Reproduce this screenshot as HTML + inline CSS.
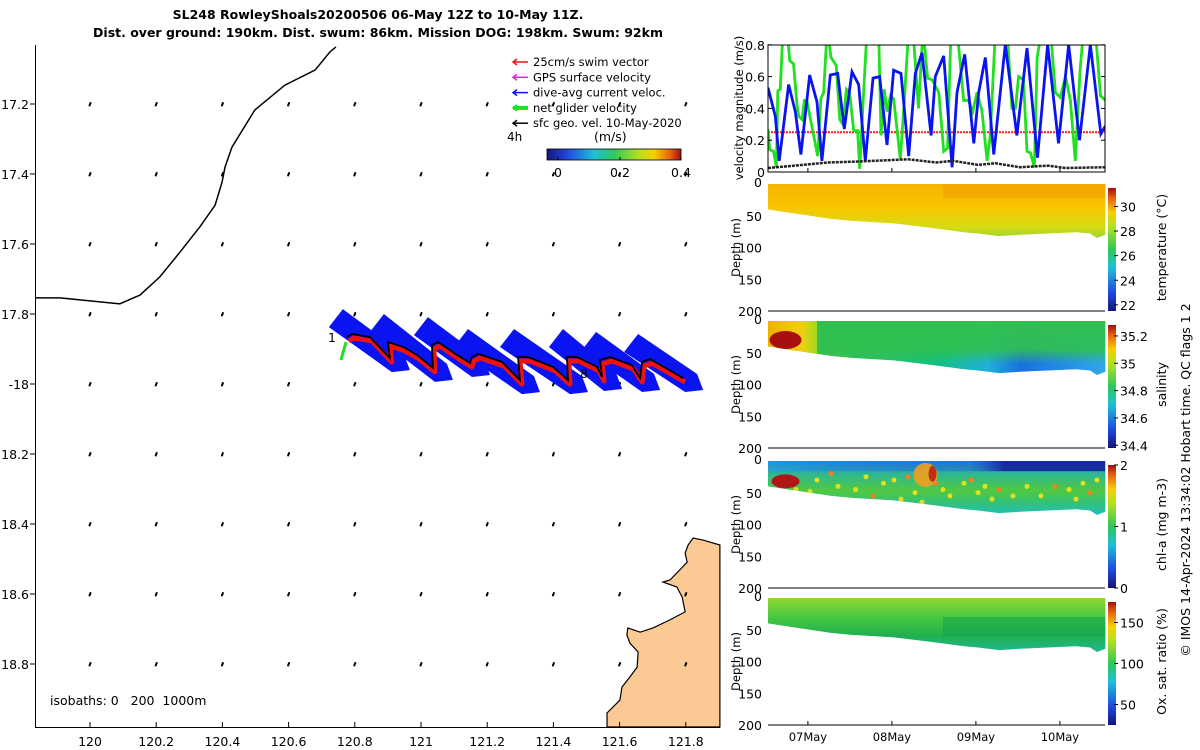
<!DOCTYPE html>
<html><head><meta charset="utf-8"><style>
html,body{margin:0;padding:0;background:#fff;overflow:hidden;}
svg{display:block;font-family:"DejaVu Sans","Liberation Sans",sans-serif;}
</style></head><body>
<svg id="root" width="1200" height="750" viewBox="0 0 1200 750">
<defs>
<linearGradient id="jet" x1="0" y1="1" x2="0" y2="0">
<stop offset="0" stop-color="#15157a"/><stop offset="0.15" stop-color="#1f48e0"/><stop offset="0.35" stop-color="#1fbfd8"/><stop offset="0.5" stop-color="#2ec85a"/><stop offset="0.68" stop-color="#b0e020"/><stop offset="0.8" stop-color="#f8d000"/><stop offset="0.92" stop-color="#e86010"/><stop offset="1" stop-color="#a01010"/>
</linearGradient>
<linearGradient id="jeth" x1="0" y1="0" x2="1" y2="0">
<stop offset="0" stop-color="#15157a"/><stop offset="0.15" stop-color="#1f48e0"/><stop offset="0.35" stop-color="#1fbfd8"/><stop offset="0.5" stop-color="#2ec85a"/><stop offset="0.68" stop-color="#b0e020"/><stop offset="0.8" stop-color="#f8d000"/><stop offset="0.92" stop-color="#e86010"/><stop offset="1" stop-color="#a01010"/>
</linearGradient>
<linearGradient id="gTemp" x1="0" y1="0" x2="0" y2="1"><stop offset="0" stop-color="#f7b400"/><stop offset="0.45" stop-color="#f7c600"/><stop offset="0.8" stop-color="#d6dc14"/><stop offset="1" stop-color="#9ad630"/></linearGradient>
<linearGradient id="gSal" x1="0" y1="0" x2="1" y2="0"><stop offset="0" stop-color="#f0b000"/><stop offset="0.12" stop-color="#e8d010"/><stop offset="0.16" stop-color="#40c050"/><stop offset="0.5" stop-color="#10c080"/><stop offset="0.65" stop-color="#20b0d8"/><stop offset="0.75" stop-color="#1a70e0"/><stop offset="1" stop-color="#30a8e8"/></linearGradient>
<linearGradient id="gSalTop" x1="0" y1="0" x2="0" y2="1"><stop offset="0" stop-color="#30c050" stop-opacity="1"/><stop offset="0.5" stop-color="#30c050" stop-opacity="0.9"/><stop offset="0.75" stop-color="#30c050" stop-opacity="0"/></linearGradient>
<linearGradient id="gSalLeft" x1="0" y1="0" x2="1" y2="0"><stop offset="0" stop-color="#f0b000"/><stop offset="0.7" stop-color="#f0d010"/><stop offset="1" stop-color="#a0d820"/></linearGradient>
<linearGradient id="gChl" x1="0" y1="0" x2="0" y2="1"><stop offset="0" stop-color="#2080e0"/><stop offset="0.25" stop-color="#30b890"/><stop offset="0.55" stop-color="#50c840"/><stop offset="0.8" stop-color="#30c080"/><stop offset="1" stop-color="#20c0c0"/></linearGradient>
<linearGradient id="gChlTop" x1="0" y1="0" x2="1" y2="0"><stop offset="0" stop-color="#20a0e0" stop-opacity="0.6"/><stop offset="0.6" stop-color="#1a50d0" stop-opacity="0.3"/><stop offset="0.7" stop-color="#15209a" stop-opacity="0.9"/><stop offset="1" stop-color="#15209a" stop-opacity="0.9"/></linearGradient>
<linearGradient id="gOx" x1="0" y1="0" x2="0" y2="1"><stop offset="0" stop-color="#90d830"/><stop offset="0.35" stop-color="#48c840"/><stop offset="0.7" stop-color="#20b050"/><stop offset="1" stop-color="#20b890"/></linearGradient>
</defs>

<text x="378" y="19" text-anchor="middle" font-size="12.5" font-weight="bold">SL248 RowleyShoals20200506 06-May 12Z to 10-May 11Z.</text>
<text x="378" y="37" text-anchor="middle" font-size="12.5" font-weight="bold">Dist. over ground: 190km. Dist. swum: 86km. Mission DOG: 198km. Swum: 92km</text>

<g id="map"></g>
<g id="vel"></g>
<g id="depths"></g>

<text transform="translate(1190,480) rotate(-90)" text-anchor="middle" font-size="12.5">© IMOS 14-Apr-2024 13:34:02 Hobart time. QC flags 1  2</text>
</svg>
<script>
// ---------- DATA ----------
const lonTicks=[120,120.2,120.4,120.6,120.8,121,121.2,121.4,121.6,121.8];
const latTicks=[17.2,17.4,17.6,17.8,18,18.2,18.4,18.6,18.8];
const latTickLabels=["17.2","17.4","17.6","17.8","-18","18.2","18.4","18.6","18.8"];
const coastLon=[119.834,119.91,120.09,120.151,120.211,120.272,120.332,120.378,120.399,120.408,120.429,120.498,120.589,120.68,120.725,120.743];
const coastLat=[17.754,17.754,17.771,17.746,17.694,17.623,17.551,17.489,17.423,17.380,17.323,17.217,17.146,17.103,17.051,17.037];
const landLon=[121.903,121.852,121.822,121.807,121.798,121.804,121.782,121.752,121.731,121.773,121.789,121.798,121.752,121.701,121.662,121.625,121.622,121.631,121.656,121.653,121.631,121.607,121.601,121.562,121.562,121.903];
const landLat=[18.46,18.446,18.44,18.46,18.483,18.509,18.531,18.56,18.566,18.58,18.609,18.651,18.674,18.697,18.709,18.697,18.717,18.74,18.766,18.809,18.837,18.866,18.903,18.94,18.98,18.98];
const trackLon=[120.776,120.792,120.846,120.906,120.900,120.946,120.988,121.036,121.033,121.051,121.109,121.148,121.154,121.172,121.245,121.299,121.293,121.323,121.399,121.444,121.441,121.471,121.532,121.547,121.541,121.571,121.637,121.662,121.668,121.692,121.761,121.792];
const trackLat=[17.866,17.857,17.866,17.926,17.880,17.894,17.917,17.954,17.889,17.880,17.917,17.940,17.923,17.914,17.937,17.989,17.923,17.923,17.951,17.989,17.923,17.923,17.951,17.980,17.931,17.923,17.946,17.983,17.937,17.929,17.966,17.983];
const loopStart=[0,4,8,12,16,20,24,28];
const loopEnd=[3,7,11,15,19,23,27,31];

const velTicks=[0,0.2,0.4,0.6,0.8];
const blueT=[0,2.1,3.2,5.9,7.8,9.4,11.9,14,15.4,17.8,19.9,21.8,24,25.9,27.8,30,31.9,34,35.9,38,40.2,42.1,44,46.6,47.8,50.2,52.6,54,56.2,58.8,60.2,62.1,64.5,67.8,71.1,74,77,79.9,83,85.9,89,92.1,95.1,96.4];
const blueV=[0.53,0.35,0.07,0.55,0.38,0.11,0.61,0.44,0.07,0.61,0.62,0.27,0.63,0.55,0.07,0.59,0.6,0.17,0.64,0.62,0.1,0.62,0.75,0.23,0.6,0.73,0.03,0.5,0.74,0.18,0.5,0.72,0.11,0.8,0.23,0.78,0.09,0.8,0.18,0.8,0.2,0.8,0.24,0.29];
const greenT=[0,0.5,1.6,2.4,2.8,3.5,4.3,5.4,6.2,7.3,8.3,8.8,9.7,10.4,11.1,12.6,14.2,15.1,15.9,16.9,18,19.5,20.5,21.4,22.4,23.3,24.5,25.6,26.2,27.1,28.3,31.6,32.3,33.2,34,35,35.9,37.8,38.8,40.2,41.4,43,44.3,45.6,46.9,48.8,50.2,51.3,52.3,54,55.9,57.3,58.5,59.7,61.1,62.6,63.5,65,68.3,69.7,70.7,71.6,73,74,75,76.1,76.9,78.3,80.7,82.1,83.5,85,86.4,87.8,89.2,90.2,93.5,95,96.4];
const greenV=[0.27,0.14,0.13,0.03,0.51,0.52,0.9,0.92,0.7,0.68,0.42,0.35,0.33,0.45,0.45,0.28,0.1,0.46,0.5,0.9,0.72,0.67,0.33,0.3,0.52,0.5,0.26,0.26,0.02,0.41,0.9,0.9,0.23,0.52,0.38,0.48,0.46,0.08,0.4,0.9,0.9,0.4,0.9,0.59,0.58,0.5,0.13,0.15,0.9,0.9,0.45,0.45,0.38,0.5,0.39,0.07,0.23,0.9,0.9,0.4,0.4,0.6,0.58,0.13,0.12,0.03,0.72,0.9,0.9,0.5,0.47,0.6,0.45,0.07,0.65,0.9,0.9,0.48,0.45];
const blackT=[0,10,17,25,40,48,53,60,65,72,80,85,96.4];
const blackV=[0.025,0.045,0.06,0.065,0.08,0.06,0.07,0.045,0.055,0.03,0.04,0.025,0.03];
const swimV=0.25;
const dateTicks=[11.4,35.4,59.4,83.4];
const dateLabels=["07May","08May","09May","10May"];

const profT=[0,6,12,18,24,36,48,56,60,66,72,80,88,92,94,96.4];
const profD=[40,45,50,55,58,62,70,76,78,82,80,78,76,78,85,80];
const depthTicks=[0,50,100,150,200];
const cbTemp=[22,24,26,28,30], cbTempRange=[21.5,31.5];
const cbSal=[34.4,34.6,34.8,35,35.2], cbSalRange=[34.38,35.28];
const cbChl=[0,1,2], cbChlRange=[0,2];
const cbOx=[50,100,150], cbOxRange=[25,175];
const chlDotT=[5,8,12,14,18,20,25,28,30,33,36,38,40,42,44,46,48,50,52,56,58,60,62,64,66,70,74,78,82,86,88,90,92,94];
const chlDotD=[50,45,48,30,20,40,45,25,55,35,30,60,25,50,65,15,35,45,55,35,30,50,40,60,45,55,40,55,40,45,60,35,50,30];

// ---------- HELPERS ----------
const NS="http://www.w3.org/2000/svg";
function mk(parent,tag,attrs){const e=document.createElementNS(NS,tag);for(const k in attrs)e.setAttribute(k,attrs[k]);parent.appendChild(e);return e;}
function txt(parent,x,y,s,size,anchor){const t=mk(parent,'text',{x:x,y:y,'font-size':size||12.5,'text-anchor':anchor||'start'});t.textContent=s;return t;}

// ---------- MAP ----------
const map=document.getElementById('map');
const lonX=l=>90+(l-120)*331;
const latY=l=>104+(l-17.2)*350;
const mapBottom=727;
const land=mk(map,'polygon',{points:landLon.map((l,i)=>lonX(l)+','+latY(landLat[i])).join(' '),fill:'#fbca94',stroke:'#000','stroke-width':1.2});


mk(map,'rect',{x:720.5,y:530,width:4,height:200,fill:'#fff'});
const coast=mk(map,'polyline',{points:coastLon.map((l,i)=>lonX(l)+','+latY(coastLat[i])).join(' '),fill:'none',stroke:'#000','stroke-width':1.5});


lonTicks.forEach(lo=>latTicks.forEach(la=>{
  const x=lonX(lo),y=latY(la);
  const a=mk(map,'path',{d:`M${x+0.5},${y-1} L${x-0.5},${y+1.5}`,stroke:'#000','stroke-width':2,fill:'none','stroke-linecap':'round'});
  
  
}));
const cg=mk(map,'g',{});


loopStart.forEach((s,k)=>{
  const e=loopEnd[k];
  const xs=lonX(trackLon[s]),ys=latY(trackLat[s]),xe=lonX(trackLon[e]),ye=latY(trackLat[e]);
  mk(cg,'polygon',{points:`${xs-18},${ys-10} ${xs-4},${ys-28} ${xe+14},${ye-4} ${xe+20},${ye+12} ${xe+2},${ye+14}`,fill:'#0a14f0'});
});
const red=mk(map,'polyline',{points:trackLon.map((l,i)=>(lonX(l)+2)+','+(latY(trackLat[i])+4)).join(' '),fill:'none',stroke:'#f01010','stroke-width':5,'stroke-linejoin':'round'});


const trk=mk(map,'polyline',{points:trackLon.map((l,i)=>lonX(l)+','+latY(trackLat[i])).join(' '),fill:'none',stroke:'#000','stroke-width':1.8});


mk(map,'path',{d:'M346,342 L341,360',stroke:'#20e020','stroke-width':3});
txt(map,328,342,'1',12.5);txt(map,580,378,'8',12.5);
mk(map,'line',{x1:35.5,y1:45,x2:35.5,y2:mapBottom,stroke:'#000','stroke-width':1});
mk(map,'line',{x1:35,y1:mapBottom+0.5,x2:720,y2:mapBottom+0.5,stroke:'#000','stroke-width':1});
lonTicks.forEach(l=>{const x=lonX(l);mk(map,'line',{x1:x,y1:mapBottom,x2:x,y2:mapBottom-5,stroke:'#000'});const t=txt(map,x,746,String(l),12.5,'middle');});
latTicks.forEach((l,i)=>{const y=latY(l);mk(map,'line',{x1:30,y1:y,x2:35,y2:y,stroke:'#000'});const t=txt(map,29,y+5,latTickLabels[i],12.5,'end');});
const iso=txt(map,50,705,'isobaths: 0   200  1000m',12.5);

iso.setAttribute('style','white-space:pre');
const lg=mk(map,'g',{});


const legItems=[['#f01010','25cm/s swim vector'],['#e020e0','GPS surface velocity'],['#0a14f0','dive-avg current veloc.'],['#20e020','net glider velocity'],['#000','sfc geo. vel. 10-May-2020']];
legItems.forEach((it,i)=>{const y=62+i*15.3;mk(lg,'line',{x1:513,y1:y,x2:528,y2:y,stroke:it[0],'stroke-width':i==3?4:1.5});mk(lg,'path',{d:`M517,${y-3} L513,${y} L517,${y+3}`,stroke:it[0],fill:'none','stroke-width':1.5});txt(lg,533,y+4,it[1],11.5);});
txt(lg,507,141,'4h',12);txt(lg,594,141,'(m/s)',12.5);
mk(lg,'rect',{x:547,y:149,width:134,height:11,fill:'url(#jeth)',stroke:'#000','stroke-width':0.8});
[[558,'0'],[620,'0.2'],[681,'0.4']].forEach(p=>{mk(lg,'line',{x1:p[0],y1:160,x2:p[0],y2:157,stroke:'#000'});txt(lg,p[0],177,p[1],12.5,'middle');});

// ---------- VELOCITY PANEL ----------
const vel=document.getElementById('vel');
const vx0=768,vx1=1105,vy0=45,vy1=172;
const tX=t=>vx0+t*3.5;
const vY=v=>vy1-v*159;
const clip=mk(vel,'clipPath',{id:'vclip'});mk(clip,'rect',{x:vx0,y:vy0,width:vx1-vx0,height:vy1-vy0});
const vg=mk(vel,'g',{'clip-path':'url(#vclip)'});
const sw=mk(vg,'line',{x1:vx0,y1:vY(swimV),x2:vx1,y2:vY(swimV),stroke:'#f02020','stroke-width':2,'stroke-dasharray':'2 1'});


const gl=mk(vg,'polyline',{points:greenT.map((t,i)=>tX(t)+','+vY(greenV[i])).join(' '),fill:'none',stroke:'#20e020','stroke-width':2.8});


const bl=mk(vg,'polyline',{points:blueT.map((t,i)=>tX(t)+','+vY(blueV[i])).join(' '),fill:'none',stroke:'#0a14f0','stroke-width':2.8});


const kl=mk(vg,'polyline',{points:blackT.map((t,i)=>tX(t)+','+vY(blackV[i])).join(' '),fill:'none',stroke:'#222','stroke-width':2.5,'stroke-dasharray':'3 1'});


mk(vel,'rect',{x:vx0,y:vy0,width:vx1-vx0,height:vy1-vy0,fill:'none',stroke:'#000','stroke-width':1});
velTicks.forEach(v=>{const y=vY(v);mk(vel,'line',{x1:vx0,y1:y,x2:vx0+4,y2:y,stroke:'#000'});mk(vel,'line',{x1:vx1,y1:y,x2:vx1-4,y2:y,stroke:'#000'});const t=txt(vel,vx0-3,y+5,String(v),12.5,'end');});
dateTicks.forEach(t=>{mk(vel,'line',{x1:tX(t),y1:vy1,x2:tX(t),y2:vy1-4,stroke:'#000'});});
const vt=txt(vel,0,0,'velocity magnitude (m/s)',11.5,'middle');vt.setAttribute('transform','translate(743,108) rotate(-90)');


// ---------- DEPTH PANELS ----------
const dp=document.getElementById('depths');
const panels=[
 {top:184,fill:'url(#gTemp)',ticks:cbTemp,range:cbTempRange,label:'temperature (°C)',name:'temperature'},
 {top:321,fill:'url(#gSal)',ticks:cbSal,range:cbSalRange,label:'salinity',name:'salinity'},
 {top:461,fill:'url(#gChl)',ticks:cbChl,range:cbChlRange,label:'chl-a (mg m-3)',name:'chlorophyll'},
 {top:598,fill:'url(#gOx)',ticks:cbOx,range:cbOxRange,label:'Ox. sat. ratio (%)',name:'oxygen'}];
panels.forEach((p,pi)=>{
  const g=mk(dp,'g',{});
  
  
  const H=127, dY=d=>p.top+d*H/200;
  const pts=[tX(0)+','+dY(0),tX(96.4)+','+dY(0)].concat(profT.slice().reverse().map((t,i)=>tX(t)+','+dY(profD[profT.length-1-i]))).join(' ');
  const cid='pc'+pi;
  const cp=mk(g,'clipPath',{id:cid});mk(cp,'polygon',{points:pts});
  mk(g,'polygon',{points:pts,fill:p.fill});
  const ov=mk(g,'g',{'clip-path':`url(#${cid})`});
  if(pi==1){mk(ov,'rect',{x:vx0,y:dY(0),width:vx1-vx0,height:dY(90)-dY(0),fill:'url(#gSalTop)'});
    mk(ov,'rect',{x:vx0,y:dY(0),width:tX(14)-vx0,height:dY(60)-dY(0),fill:'url(#gSalLeft)'});
    mk(ov,'ellipse',{cx:tX(5),cy:dY(30),rx:16,ry:9,fill:'#a81010'});}
  if(pi==2){mk(ov,'rect',{x:vx0,y:dY(0),width:vx1-vx0,height:dY(16)-dY(0),fill:'url(#gChlTop)'});
    mk(ov,'ellipse',{cx:tX(5),cy:dY(32),rx:14,ry:7,fill:'#b01818'});
    chlDotT.forEach((t,i)=>{mk(ov,'circle',{cx:tX(t),cy:dY(chlDotD[i]),r:2.5,fill:i%4==0?'#f08020':'#e0e020'});});
    mk(ov,'ellipse',{cx:tX(45),cy:dY(22),rx:12,ry:12,fill:'#f0a020',opacity:0.9});
    mk(ov,'ellipse',{cx:tX(47),cy:dY(20),rx:4,ry:8,fill:'#c03010'});}
  if(pi==0){mk(ov,'rect',{x:tX(50),y:dY(0),width:tX(96.4)-tX(50),height:dY(22)-dY(0),fill:'#f0a000',opacity:0.6});}
  if(pi==3){mk(ov,'rect',{x:tX(50),y:dY(30),width:tX(96.4)-tX(50),height:dY(60)-dY(30),fill:'#10a050',opacity:0.5});}
  mk(g,'line',{x1:vx0,y1:dY(200),x2:vx1,y2:dY(200),stroke:'#000'});
  depthTicks.forEach(d=>{const t=txt(g,762,dY(d)+(d==0?3:5),String(d),12.5,'end');});
  const yt=txt(g,0,0,'Depth (m)',11.5,'middle');yt.setAttribute('transform',`translate(740,${dY(100)}) rotate(-90)`);
  
  const cb=mk(g,'rect',{x:1108,y:p.top+4,width:8,height:H-4,fill:'url(#jet)'});
  
  
  const cY=v=>p.top+H-(v-p.range[0])/(p.range[1]-p.range[0])*(H-4);
  p.ticks.forEach(v=>{const y=cY(v);mk(g,'line',{x1:1114,y1:y,x2:1118,y2:y,stroke:'#000'});txt(g,1120,y+5,String(v),12.5);});
  const lt=txt(g,0,0,p.label,12.5,'middle');lt.setAttribute('transform',`translate(1166,${p.top+H/2}) rotate(-90)`);
  
  if(pi==3){dateTicks.forEach((t,i)=>{mk(g,'line',{x1:tX(t),y1:dY(200),x2:tX(t),y2:dY(200)-4,stroke:'#000'});const d=txt(g,tX(t),dY(200)+16,dateLabels[i],11.5,'middle');});}
});
</script>
</body></html>
